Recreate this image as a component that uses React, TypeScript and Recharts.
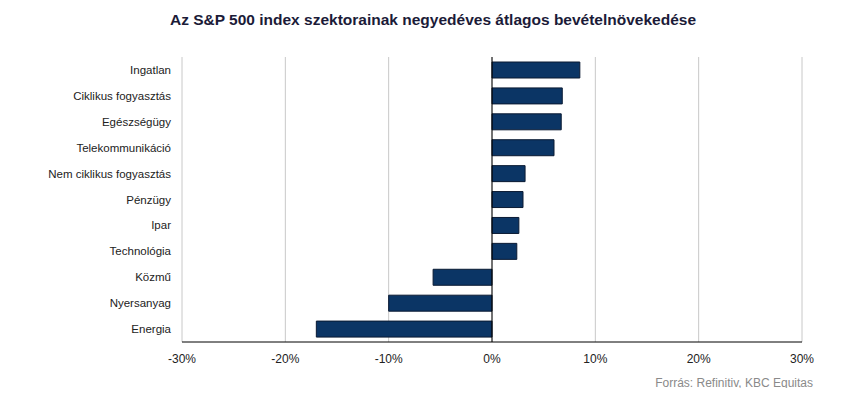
import React from "react";
import { BarChart, Bar, XAxis, YAxis, CartesianGrid, ReferenceLine } from "recharts";

const sectors = [
  "Ingatlan",
  "Ciklikus fogyasztás",
  "Egészségügy",
  "Telekommunikáció",
  "Nem ciklikus fogyasztás",
  "Pénzügy",
  "Ipar",
  "Technológia",
  "Közmű",
  "Nyersanyag",
  "Energia",
];
const growth = [8.5, 6.8, 6.7, 6.0, 3.2, 3.0, 2.6, 2.4, -5.7, -10.0, -17.0];
const xTicks = [-30, -20, -10, 0, 10, 20, 30];

const FONT = "'Liberation Sans', Arial, sans-serif";

const App: React.FC = () => {
  const data = sectors.map((name, i) => ({ name, value: growth[i] }));

  return (
    <div style={{ position: "relative", width: 850, height: 396, margin: -8, background: "#fff", fontFamily: FONT }}>
      <div
        style={{
          position: "absolute",
          top: 11,
          left: 0,
          width: 866,
          textAlign: "center",
          fontWeight: "bold",
          fontSize: 15.5,
          color: "#1b1b38",
        }}
      >
        Az S&amp;P 500 index szektorainak negyedéves átlagos bevételnövekedése
      </div>
      <BarChart
        width={850}
        height={396}
        data={data}
        layout="vertical"
        margin={{ top: 57, right: 48, bottom: 24, left: 12 }}
        barSize={16}
      >
        <CartesianGrid horizontal={false} stroke="#c8c8c8" />
        <XAxis
          type="number"
          domain={[-30, 30]}
          ticks={xTicks}
          tickFormatter={(v: number) => `${v}%`}
          axisLine={{ stroke: "#000" }}
          tickLine={false}
          tickSize={0}
          tickMargin={12}
          tick={{ fill: "#222", fontSize: 12, fontFamily: FONT }}
        />
        <YAxis
          type="category"
          dataKey="name"
          width={170}
          axisLine={false}
          tickLine={false}
          tickSize={0}
          tickMargin={11}
          interval={0}
          tick={{ fill: "#222", fontSize: 11.5, fontFamily: FONT }}
        />
        <ReferenceLine x={0} stroke="#000" />
        <Bar dataKey="value" fill="#0b3565" stroke="#0a1a33" strokeWidth={1} isAnimationActive={false} />
      </BarChart>
      <div
        style={{
          position: "absolute",
          top: 376,
          right: 37,
          fontSize: 12,
          color: "#8a8a8a",
        }}
      >
        Forrás: Refinitiv, KBC Equitas
      </div>
    </div>
  );
};

export default App;
